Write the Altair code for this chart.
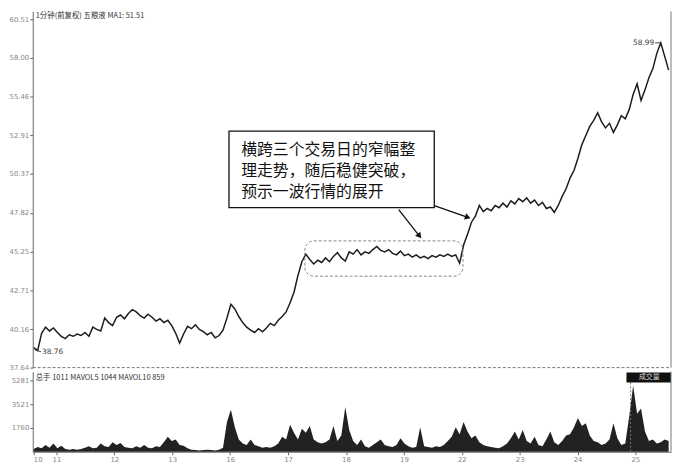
import json
import altair as alt
import pandas as pd

# ---------------- data ----------------
days = ["10", "11", "12", "13", "16", "17", "18", "19", "22", "23", "24", "25"]
day_ticks = [0.6, 1, 2, 3, 4, 5, 6, 7, 8, 9, 10, 11]

price_ticks = [37.64, 40.16, 42.71, 45.25, 47.82, 50.37, 52.91, 55.46, 58.00, 60.51]
vol_ticks = [1760, 3521, 5281]

price = [
    38.95, 38.76, 39.90, 40.30, 40.05, 40.25, 39.95, 39.70, 39.55, 39.80, 39.70,
    39.85, 39.75, 39.95, 39.70, 40.30, 40.15, 40.05, 40.90, 40.60, 40.40, 40.95,
    41.10, 40.85, 41.20, 41.45, 41.30, 41.05, 40.90, 41.15, 40.95, 40.70, 40.85,
    40.60, 40.75, 40.40,
    39.90, 39.25, 39.85, 40.35, 40.20, 40.45, 40.15, 40.00, 39.80, 39.95, 39.60,
    39.75, 40.10, 40.90, 41.80, 41.50, 41.00,
    40.60, 40.30, 40.10, 39.95, 40.20, 40.00, 40.25, 40.55, 40.40, 40.75, 41.00,
    41.30, 41.90,
    42.60, 43.70, 44.60, 45.10,
    44.75, 44.45, 44.70, 44.55, 44.85, 44.60, 44.95, 45.20, 44.85, 44.65, 45.25,
    45.10, 45.40, 45.05, 45.25, 45.15, 45.40, 45.60, 45.35, 45.25, 45.40, 45.15,
    45.05, 45.30, 45.00, 45.10, 44.90, 45.05, 44.85, 44.95, 44.80, 45.00, 44.90,
    45.05, 44.95, 45.10, 44.95, 45.05, 44.50,
    45.70, 46.40, 47.20, 47.60, 48.30, 47.90, 48.10, 47.95, 48.30, 48.15, 48.45,
    48.20, 48.60, 48.40, 48.75, 48.55, 48.80, 48.45, 48.65, 48.30, 48.50, 48.10,
    48.20, 47.85, 48.30, 48.90, 49.40, 50.10, 50.60, 51.40, 52.30, 52.90, 53.50,
    53.90, 54.40, 53.80, 53.40, 53.70, 53.10, 53.60, 54.20,
    54.00, 54.60, 55.60, 56.30, 55.20, 55.90, 56.70, 57.30, 58.30, 58.99, 58.10,
    57.20,
]

volume = [
    200, 350, 250, 500, 300, 600, 250, 450, 200, 150, 200, 150, 200, 300, 400,
    250, 300, 600, 400, 350, 700, 500, 650, 350, 300, 250, 400, 300, 500, 300,
    250, 400, 350, 700, 1100, 800, 900, 500, 450, 250, 150, 120, 100, 120, 150,
    120, 100, 150, 300, 2200, 3100, 1800, 900, 600, 500, 900, 500, 400, 300, 350,
    300, 400, 600, 1100, 900, 2000, 1400, 900, 1700, 1400, 1900, 900, 700, 600,
    700, 900, 1900, 800, 1200, 3300, 1600, 800, 500, 900, 400, 300, 500, 700,
    900, 500, 400, 350, 500, 1000, 600, 400, 300, 350, 1800, 400, 350, 300, 400,
    350, 500, 800, 1100, 1800, 1300, 2200, 1500, 1000, 1200, 700, 500, 400, 350,
    300, 250, 400, 600, 1000, 1500, 900, 1600, 800, 600, 1100, 500, 400, 900,
    1500, 700, 500, 800, 1200, 1300, 1800, 2500, 1900, 2100, 1200, 800, 700, 500,
    600, 900, 2100, 1000, 500, 600, 2600, 4900, 2800, 3200, 1500, 800, 900, 600,
    700, 900, 800,
]

T_FIRST = 0.608   # time of first sample, in trading days
T_STEP = 0.0681   # sampling interval, in trading days

header_price = "1分钟(前复权) 五粮液 MA1: 51.51"
header_vol = "总手 1011 MAVOL5 1044 MAVOL10 859"
note_lines = ["横跨三个交易日的窄幅整", "理走势，随后稳健突破，", "预示一波行情的展开"]

# ---------------- tables ----------------
pdf = pd.DataFrame({"t": [T_FIRST + i * T_STEP for i in range(len(price))], "p": price})
vdf = pd.DataFrame({"t": [T_FIRST + i * T_STEP for i in range(len(volume))], "v": volume})
one = pd.DataFrame({"k": [0]})

note_box = pd.DataFrame({"t1": [3.98], "t2": [7.525], "p1": [53.19], "p2": [48.16]})
cons_box = pd.DataFrame({"t1": [5.29], "t2": [8.02], "p1": [45.97], "p2": [43.65]})
note_txt = pd.DataFrame({"t": [4.19] * 3, "p": [51.95, 50.55, 49.15], "s": note_lines})
arrows = pd.DataFrame({
    "t1": [6.911, 7.525], "p1": [48.03, 48.29],
    "t2": [7.269, 8.104], "p2": [46.29, 47.52],
})
peak = pd.DataFrame({"t": [11.34], "t2": [11.44], "p": [58.99], "s": ["58.99"]})
low = pd.DataFrame({"t": [0.625], "t2": [0.735], "p": [38.80], "p2": [38.68],
                    "s": ["38.76"]})
cursor = pd.DataFrame({"t": [10.915]})

W = 645
HP = 360
HV = 81

AX_FONT = "DejaVu Sans"
CJK = "Noto Sans CJK SC"

xscale = alt.Scale(domain=[0.591, 11.613], nice=False, zero=False)
yscale = alt.Scale(domain=[37.64, 61.06], nice=False, zero=False)
vscale = alt.Scale(domain=[0, 5923], nice=False)

yaxis = alt.Axis(values=price_ticks, format=".2f", grid=False, minExtent=18,
                 maxExtent=18, labelPadding=1)
vaxis = alt.Axis(values=vol_ticks, format="d", grid=False, minExtent=18,
                 maxExtent=18, labelPadding=1)
label_expr = json.dumps(days) + "[datum.value < 1 ? 0 : round(datum.value)]"
xaxis = alt.Axis(values=day_ticks, labelExpr=label_expr, grid=False, labelPadding=1,
                 labelOverlap=False)


def XP(f):
    return alt.X(f, type="quantitative", scale=xscale, axis=None, title=None)


def YP(f):
    return alt.Y(f, type="quantitative", scale=yscale, axis=yaxis, title=None)


# ---------------- price panel ----------------
line = alt.Chart(pdf).mark_line(color="#1c1c1c", strokeWidth=1.5).encode(
    x=XP("t"), y=YP("p"))

cons = alt.Chart(cons_box).mark_rect(
    fillOpacity=0, stroke="#888888", strokeWidth=1, strokeDash=[3, 2], cornerRadius=9
).encode(x=XP("t1"), x2="t2", y=YP("p1"), y2="p2")

nbox = alt.Chart(note_box).mark_rect(
    fill="white", stroke="#111111", strokeWidth=1.3
).encode(x=XP("t1"), x2="t2", y=YP("p1"), y2="p2")

ntxt = alt.Chart(note_txt).mark_text(
    align="left", baseline="middle", fontSize=16, font=CJK, color="#111111"
).encode(x=XP("t"), y=YP("p"), text="s:N")

arr_line = alt.Chart(arrows).mark_rule(color="#111111", strokeWidth=1.3).encode(
    x=XP("t1"), x2="t2", y=YP("p1"), y2="p2")
arr_head1 = alt.Chart(arrows.iloc[[0]]).mark_point(
    shape="triangle-up", filled=True, size=45, angle=142, color="#111111", opacity=1
).encode(x=XP("t2"), y=YP("p2"))
arr_head2 = alt.Chart(arrows.iloc[[1]]).mark_point(
    shape="triangle-up", filled=True, size=45, angle=110, color="#111111", opacity=1
).encode(x=XP("t2"), y=YP("p2"))

peak_txt = alt.Chart(peak).mark_text(
    align="right", baseline="middle", fontSize=7.5, font=AX_FONT, color="#444444", dx=-1
).encode(x=XP("t"), y=YP("p"), text="s:N")
peak_rule = alt.Chart(peak).mark_rule(color="#444444", strokeWidth=1).encode(
    x=XP("t"), x2="t2", y=YP("p"))

low_rule = alt.Chart(low).mark_rule(color="#444444", strokeWidth=1).encode(
    x=XP("t"), x2="t2", y=YP("p"), y2="p2")
low_txt = alt.Chart(low).mark_text(
    align="left", baseline="middle", fontSize=7.5, font=AX_FONT, color="#444444", dx=1
).encode(x=XP("t2"), y=YP("p2"), text="s:N")

head_p = alt.Chart(one).mark_text(
    align="left", baseline="top", fontSize=7.5, font=CJK, color="#333333"
).encode(x=alt.value(3), y=alt.value(1), text=alt.value(header_price))

right_p = alt.Chart(one).mark_rule(color="#777777", strokeWidth=1).encode(
    x=alt.value(W), y=alt.value(0), y2=alt.value(HP))
sep = alt.Chart(one).mark_rule(color="#777777", strokeWidth=1, strokeDash=[3, 2]).encode(
    x=alt.value(0), x2=alt.value(W), y=alt.value(HP))

price_panel = alt.layer(
    line, cons, nbox, ntxt, arr_line, arr_head1, arr_head2,
    peak_rule, peak_txt, low_rule, low_txt, head_p, right_p, sep
).properties(width=W, height=HP)

# ---------------- volume panel ----------------
def XV(f):
    return alt.X(f, type="quantitative", scale=xscale, axis=xaxis, title=None)


def YV(f):
    return alt.Y(f, type="quantitative", scale=vscale, axis=vaxis, title=None)


area = alt.Chart(vdf).mark_area(color="#222222", interpolate="linear").encode(
    x=XV("t"), y=YV("v"))

cur = alt.Chart(cursor).mark_rule(color="#777777", strokeWidth=1, strokeDash=[2, 2]).encode(
    x=XV("t"), y=alt.value(11), y2=alt.value(HV))

head_v = alt.Chart(one).mark_text(
    align="left", baseline="top", fontSize=7.5, font=CJK, color="#333333"
).encode(x=alt.value(3), y=alt.value(3), text=alt.value(header_vol))

tag_box = alt.Chart(one).mark_rect(color="#111111").encode(
    x=alt.value(W - 45), x2=alt.value(W), y=alt.value(1), y2=alt.value(11))
tag_txt = alt.Chart(one).mark_text(
    align="center", baseline="middle", fontSize=7, font=CJK, color="#dddddd"
).encode(x=alt.value(W - 22), y=alt.value(6), text=alt.value("成交量"))

right_v = alt.Chart(one).mark_rule(color="#777777", strokeWidth=1).encode(
    x=alt.value(W), y=alt.value(0), y2=alt.value(HV))

vol_panel = alt.layer(area, cur, head_v, tag_box, tag_txt, right_v).properties(
    width=W, height=HV)

chart = alt.vconcat(price_panel, vol_panel, spacing=0).properties(
    padding={"left": 0, "top": 0, "right": 0, "bottom": 0}
).configure_view(stroke=None).configure_axis(
    domainColor="#666666", tickColor="#666666", labelColor="#888888",
    labelFontSize=7, labelFont=AX_FONT, tickSize=3
).configure_concat(spacing=0)

chart.save("out.html", embed_options={"renderer": "svg", "actions": False})
